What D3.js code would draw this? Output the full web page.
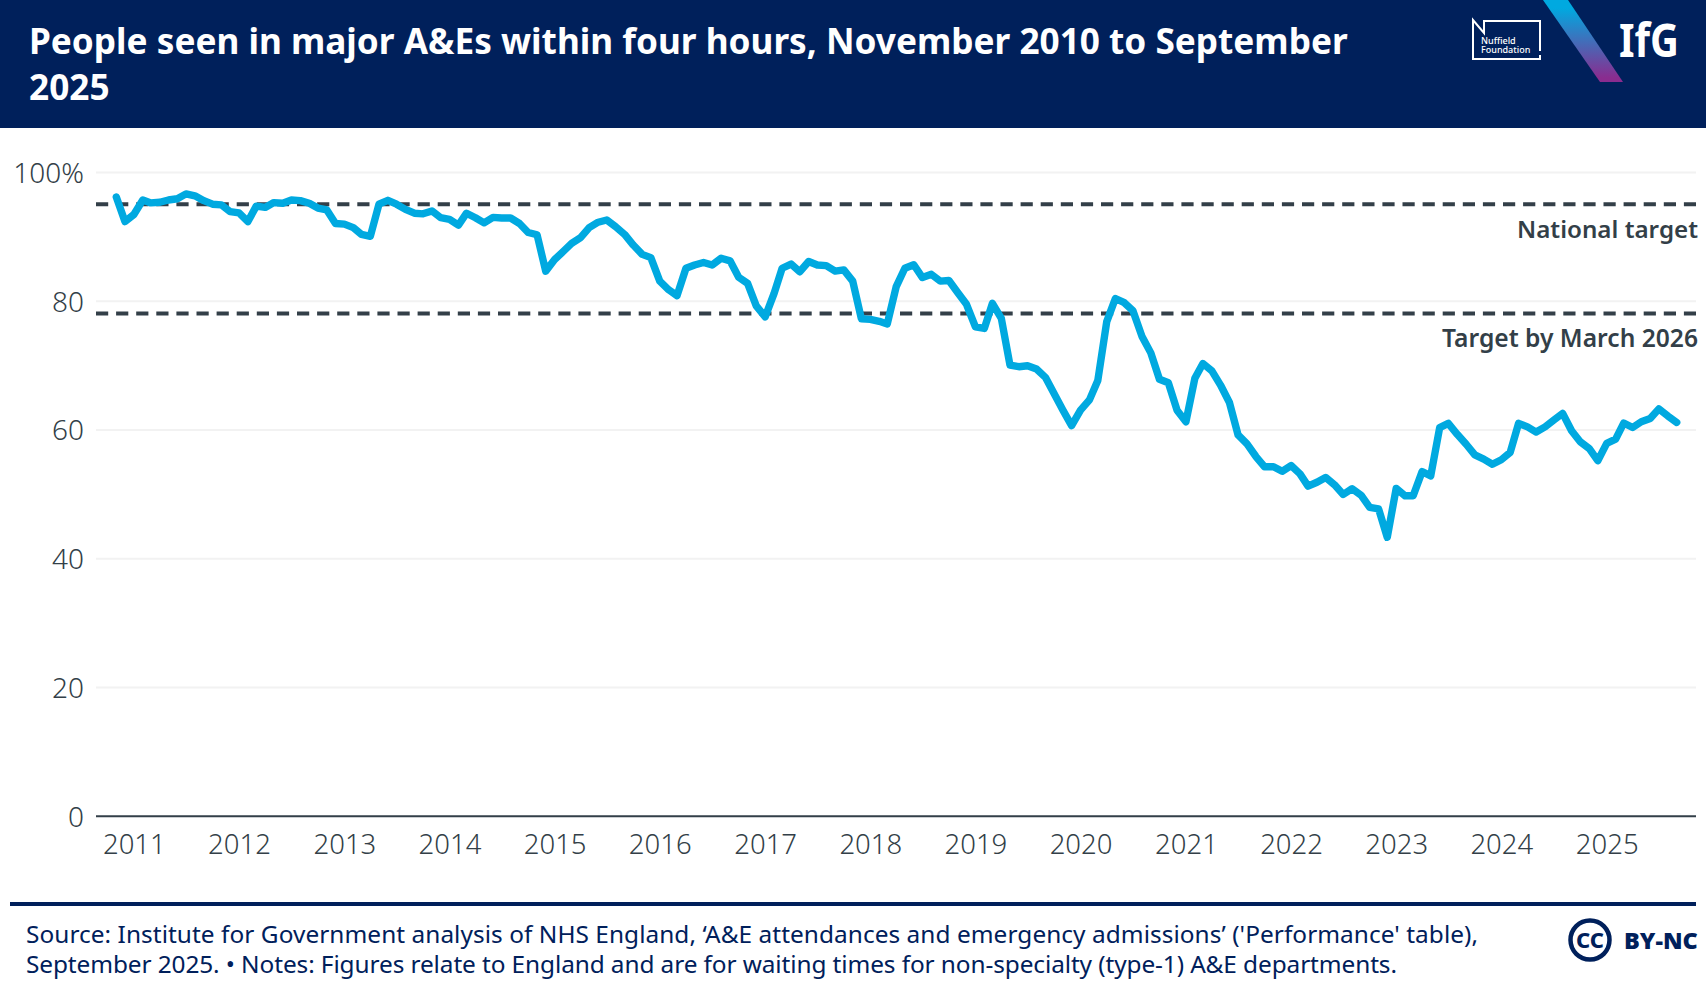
<!DOCTYPE html>
<meta charset="utf-8">
<style>
  body { margin: 0; background: #fff; }
  svg { display: block; }
  text { font-family: "Noto Sans", sans-serif; }
</style>
<script src="https://d3js.org/d3.v7.min.js"></script>
<div id="chart"></div>
<script>
// Monthly share of people seen within four hours, Nov 2010 onwards
var firstMonth = new Date(2010, 10, 1);
var seenWithinFour = [
  96.1, 92.3, 93.4, 95.65, 95.2, 95.3, 95.65, 95.85, 96.6, 96.3, 95.55, 95.0,
  94.9, 93.85, 93.65, 92.3, 94.7, 94.5, 95.25, 95.15, 95.65, 95.55, 95.15, 94.4,
  94.1, 92.0, 91.9, 91.35, 90.3, 90.0, 95.0, 95.6, 95.0, 94.2, 93.6, 93.5,
  93.95, 92.9, 92.65, 91.75, 93.6, 92.9, 92.1, 92.95, 92.85, 92.85, 92.0, 90.6,
  90.25, 84.6, 86.4, 87.7, 88.9, 89.8, 91.35, 92.2, 92.55, 91.5, 90.3, 88.65,
  87.2, 86.7, 83.05, 81.7, 80.8, 85.05, 85.55, 85.95, 85.55, 86.6, 86.2, 83.65,
  82.7, 79.2, 77.5, 81.15, 85.05, 85.7, 84.5, 86.1, 85.55, 85.45, 84.6, 84.8,
  83.05, 77.2, 77.1, 76.8, 76.4, 82.2, 85.05, 85.6, 83.6, 84.1, 83.05, 83.15,
  81.25, 79.45, 75.95, 75.7, 79.6, 77.25, 70.0, 69.75, 69.9, 69.4, 68.1, 65.6,
  63.0, 60.6, 63.0, 64.6, 67.6, 76.75, 80.35, 79.7, 78.45, 74.5, 71.9, 67.8,
  67.25, 63.0, 61.2, 67.95, 70.25, 69.1, 66.9, 64.2, 59.15, 57.75, 55.8, 54.2,
  54.2, 53.5, 54.4, 53.1, 51.2, 51.8, 52.55, 51.4, 49.9, 50.8, 49.8, 47.9,
  47.65, 43.25, 50.85, 49.7, 49.7, 53.45, 52.8, 60.3, 60.95, 59.25, 57.7, 56.05,
  55.4, 54.6, 55.3, 56.45, 60.95, 60.4, 59.6, 60.4, 61.45, 62.5, 59.8, 58.1,
  57.05, 55.15, 57.85, 58.5, 61.0, 60.3, 61.2, 61.7, 63.2, 62.1, 61.1
];
var yearLabels = [2011, 2012, 2013, 2014, 2015, 2016, 2017, 2018, 2019, 2020, 2021, 2022, 2023, 2024, 2025];
var yTicks = [0, 20, 40, 60, 80, 100];
var targetValues = [95, 78];
var targetLabels = ["National target", "Target by March 2026"];
var titleLines = ["People seen in major A&Es within four hours, November 2010 to September", "2025"];
var sourceLines = [
  "Source: Institute for Government analysis of NHS England, ‘A&E attendances and emergency admissions’ ('Performance' table),",
  "September 2025. • Notes: Figures relate to England and are for waiting times for non-specialty (type-1) A&E departments."
];

var navy = "#00205b", slate = "#333f48", blue = "#00a9e0";

var svg = d3.select("#chart").append("svg")
  .attr("width", 1706)
  .attr("height", 992);

var data = seenWithinFour.map(function(v, i) {
  return { date: d3.timeMonth.offset(firstMonth, i), value: v };
});

// Scales
var x = d3.scaleTime()
  .domain(d3.extent(data, function(d) { return d.date; }))
  .range([116.3, 1676.7]);
var y = d3.scaleLinear()
  .domain([0, 100])
  .range([815.7, 172]);
var plotLeft = 96, plotRight = 1696;

// Header band
svg.append("rect").attr("width", 1706).attr("height", 128).attr("fill", navy);
svg.append("g").selectAll("text")
  .data(titleLines)
  .enter().append("text")
  .attr("x", 29)
  .attr("y", function(d, i) { return 54 + i * 46; })
  .attr("fill", "#fff")
  .attr("font-size", 35.2)
  .attr("font-weight", 700)
  .text(function(d) { return d; });

// Logos
var grad = svg.append("defs").append("linearGradient")
  .attr("id", "slash").attr("x1", 0).attr("y1", 0).attr("x2", 0).attr("y2", 1);
grad.append("stop").attr("offset", "10%").attr("stop-color", "#00a9e0");
grad.append("stop").attr("offset", "95%").attr("stop-color", "#8a2c8f");
svg.append("path")
  .attr("d", "M1543,0L1568,0L1623,82L1600,82Z")
  .attr("fill", "url(#slash)");
svg.append("path")
  .attr("d", "M1473,28V20L1484,33V21H1540V51M1540,55V59H1473V28")
  .attr("fill", "none").attr("stroke", "#fff").attr("stroke-width", 2);
var nuffield = svg.append("text").attr("fill", "#fff")
  .attr("font-size", 9).attr("font-weight", 500);
nuffield.append("tspan").attr("x", 1481).attr("y", 44).text("Nuffield");
nuffield.append("tspan").attr("x", 1481).attr("y", 52.5).text("Foundation");
svg.append("text").attr("x", 1619).attr("y", 57).attr("fill", "#fff")
  .attr("font-size", 46).attr("font-weight", 700)
  .attr("textLength", 60).attr("lengthAdjust", "spacingAndGlyphs")
  .text("IfG");

// Y axis with gridlines
var yAxis = svg.append("g")
  .attr("transform", "translate(" + plotLeft + ",0)")
  .call(d3.axisLeft(y)
    .tickValues(yTicks)
    .tickSize(-(plotRight - plotLeft))
    .tickPadding(12)
    .tickFormat(function(d) { return d === 100 ? "100%" : d; }));
yAxis.select(".domain").remove();
yAxis.selectAll("line")
  .attr("stroke", function(d) { return d === 0 ? slate : "#f2f2f2"; })
  .attr("stroke-width", 2);
yAxis.selectAll("text")
  .attr("fill", slate)
  .attr("dy", "0.37em")
  .style("font-family", '"Noto Sans", sans-serif')
  .style("font-size", "28px")
  .style("font-weight", 300);

// X axis, labels only
var xAxis = svg.append("g")
  .attr("transform", "translate(0," + y(0) + ")")
  .call(d3.axisBottom(x)
    .tickValues(yearLabels.map(function(yr) { return new Date(yr, 0, 1); }))
    .tickSize(0)
    .tickPadding(19)
    .tickFormat(d3.timeFormat("%Y")));
xAxis.select(".domain").remove();
xAxis.selectAll("text")
  .attr("fill", slate)
  .style("font-family", '"Noto Sans", sans-serif')
  .style("font-size", "27.5px")
  .style("font-weight", 300);

// Target lines
svg.append("g").selectAll("line")
  .data(targetValues)
  .enter().append("line")
  .attr("x1", plotLeft)
  .attr("x2", plotRight)
  .attr("y1", function(d) { return y(d); })
  .attr("y2", function(d) { return y(d); })
  .attr("stroke", slate)
  .attr("stroke-width", 4)
  .attr("stroke-dasharray", "12.2 7.9");

// Main line
svg.append("path")
  .datum(data)
  .attr("fill", "none")
  .attr("stroke", blue)
  .attr("stroke-width", 7.4)
  .attr("stroke-linejoin", "round")
  .attr("stroke-linecap", "round")
  .attr("d", d3.line()
    .x(function(d) { return x(d.date); })
    .y(function(d) { return y(d.value); }));

// Target labels
svg.append("g").selectAll("text")
  .data(targetLabels)
  .enter().append("text")
  .attr("x", plotRight + 2)
  .attr("y", function(d, i) { return y(targetValues[i]) + (i === 0 ? 34 : 33); })
  .attr("text-anchor", "end")
  .attr("fill", slate)
  .attr("font-size", function(d, i) { return i === 0 ? 24.2 : 24.6; })
  .attr("font-weight", 600)
  .text(function(d) { return d; });

// Footer
svg.append("rect").attr("x", 10).attr("y", 902).attr("width", 1686).attr("height", 4).attr("fill", navy);
svg.append("g").selectAll("text")
  .data(sourceLines)
  .enter().append("text")
  .attr("x", 26)
  .attr("y", function(d, i) { return 943 + i * 30; })
  .attr("fill", navy)
  .attr("font-size", 24.4)
  .attr("font-weight", 400)
  .attr("textLength", function(d, i) { return i === 0 ? 1452 : 1371; })
  .attr("lengthAdjust", "spacing")
  .text(function(d) { return d; });

// CC badge
svg.append("circle").attr("cx", 1590).attr("cy", 940).attr("r", 19.5)
  .attr("fill", "none").attr("stroke", navy).attr("stroke-width", 4.5);
svg.append("text").attr("x", 1590).attr("y", 948).attr("text-anchor", "middle")
  .attr("fill", navy).attr("font-size", 22).attr("font-weight", 800).text("CC");
svg.append("text").attr("x", 1624).attr("y", 948.5).attr("fill", navy)
  .attr("font-size", 23.5).attr("font-weight", 900).text("BY-NC");
</script>
